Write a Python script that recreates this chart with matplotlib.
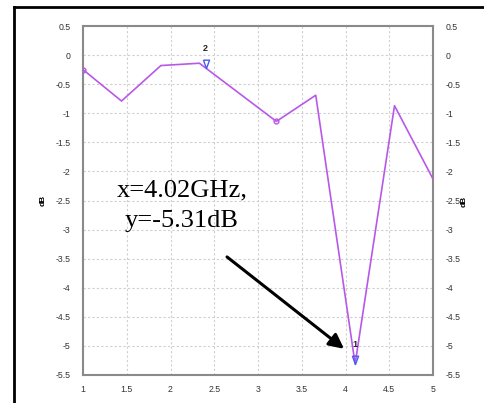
import numpy as np
import matplotlib
matplotlib.use("Agg")
from matplotlib import pyplot as plt
from matplotlib.lines import Line2D
from matplotlib.ticker import FuncFormatter, MultipleLocator

plt.rcParams['axes.unicode_minus'] = False
plt.rcParams['font.family'] = ['Liberation Sans', 'DejaVu Sans']

# Trace data (frequency in GHz, response in dB)
freq = [1.0, 1.44, 1.89, 2.33, 3.21, 3.66, 4.11, 4.56, 5.0]
db = [-0.25, -0.79, -0.18, -0.14, -1.14, -0.69, -5.31, -0.87, -2.13]

# Markers placed on the trace
marker_freq = [4.11, 2.40]
marker_db = [-5.31, -0.22]
marker_names = ["1", "2"]

# Points drawn with a small circle
dot_freq = [1.0, 3.21]
dot_db = [-0.25, -1.14]

note_text = "x=4.02GHz,\ny=-5.31dB"

fig = plt.figure(figsize=(4.84, 4.03), dpi=100)
ax = fig.add_axes([83 / 484, 28 / 403, 350 / 484, 349 / 403])

# Outer frame (left and top edges)
fig.add_artist(Line2D([14 / 484, 14 / 484], [0, 1 - 7 / 403], color="black", lw=2,
                      transform=fig.transFigure))
fig.add_artist(Line2D([14 / 484, 1], [1 - 7 / 403, 1 - 7 / 403], color="black", lw=2,
                      transform=fig.transFigure))

trace = "#b858e8"
ax.plot(freq, db, color=trace, lw=1.2, zorder=3)
ax.plot(dot_freq, dot_db, "o", ms=3.5, mfc="none", mec=trace, mew=1, zorder=4)

# Triangle marker with its tip on the data point
tri = [(-0.55, 1.5), (0.55, 1.5), (0, 0), (-0.55, 1.5)]
for fx, fy, name in zip(marker_freq, marker_db, marker_names):
    ax.plot(fx, fy, marker=tri, ms=12, mfc="none", mec="#4a5cf0", mew=1, zorder=5)
    ax.annotate(name, (fx, fy), xytext=(0, 11), textcoords="offset points",
                ha="center", va="bottom", fontsize=6.5, fontweight="bold", color="#222222")

ax.set_xlim(1, 5)
ax.set_ylim(-5.5, 0.5)
ax.xaxis.set_major_locator(MultipleLocator(0.5))
ax.yaxis.set_major_locator(MultipleLocator(0.5))
fmt = FuncFormatter(lambda v, p: "%g" % round(v, 2))
ax.xaxis.set_major_formatter(fmt)
ax.yaxis.set_major_formatter(fmt)

ax.grid(True, color="#cfcfcf", ls=(0, (2, 2)), lw=0.8)
ax.set_axisbelow(True)
for s in ax.spines.values():
    s.set_color("#8a8a8a")
    s.set_linewidth(1.5)

ax.tick_params(length=0, labelsize=6.3, labelcolor="#333333")
ax.tick_params(axis="y", pad=9, labelright=True)
ax.tick_params(axis="x", pad=7)

# dB labels on both sides
ax.set_ylabel("dB", fontsize=6, fontweight="bold", labelpad=6)
fig.text(464 / 484, 0.5, "dB", rotation=90, fontsize=6, fontweight="bold",
         ha="center", va="center")

ax.text(2.13, -2.59, note_text, ha="center", va="center", fontsize=19,
        family="Liberation Serif", linespacing=1.45, zorder=6)
ax.annotate("", xy=(3.983, -5.05), xytext=(2.646, -3.47),
            arrowprops=dict(arrowstyle="-|>", color="black", lw=2.2,
                            mutation_scale=22, shrinkA=0, shrinkB=0), zorder=6)

fig.savefig("out.png", dpi=100)
